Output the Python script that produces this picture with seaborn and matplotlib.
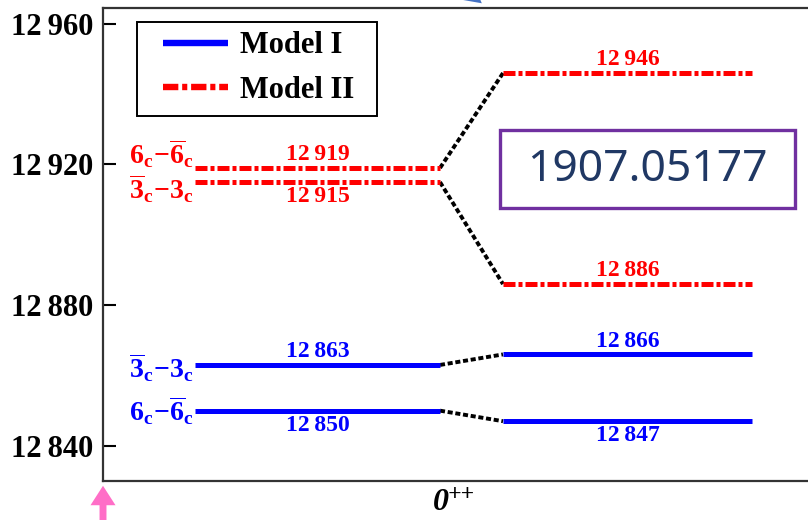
import matplotlib
matplotlib.use("Agg")
import numpy as np
import pandas as pd
import matplotlib.pyplot as plt
import seaborn as sns
from matplotlib.lines import Line2D
from matplotlib.patches import Rectangle

# ---- 0++ fully-charmed tetraquark levels (MeV) ----
model_names = ["Model I", "Model II"]
model_i_left = [12863, 12850]     # 3bar-3, 6-6bar
model_i_right = [12866, 12847]
model_ii_left = [12919, 12915]    # 6-6bar, 3bar-3
model_ii_right = [12946, 12886]
configs_i = [r"$\overline{3}_{\mathrm{c}}\!-\!3_{\mathrm{c}}$",
             r"$6_{\mathrm{c}}\!-\!\overline{6}_{\mathrm{c}}$"]
configs_ii = [r"$6_{\mathrm{c}}\!-\!\overline{6}_{\mathrm{c}}$",
              r"$\overline{3}_{\mathrm{c}}\!-\!3_{\mathrm{c}}$"]
y_ticks = [12840, 12880, 12920, 12960]
state_label = "0"
state_sup = "++"
paper_id = "1907.05177"

BLUE = "#0000FF"
RED = "#FF0000"
LEFT = (0.92, 3.37)
RIGHT = (4.00, 6.49)


def thin(v):
    return f"{v // 1000}\u2009{v % 1000:03d}"


sns.set_theme(style="white")
plt.rcParams["font.family"] = ["Liberation Serif", "DejaVu Serif"]
plt.rcParams["font.weight"] = "bold"
plt.rcParams["text.color"] = "black"
plt.rcParams["mathtext.fontset"] = "custom"
plt.rcParams["mathtext.rm"] = "Liberation Serif:bold"
plt.rcParams["mathtext.it"] = "Liberation Serif:bold:italic"
plt.rcParams["mathtext.bf"] = "Liberation Serif:bold"

fig = plt.figure(figsize=(8.08, 5.2), dpi=100)
ax = fig.add_axes([103 / 808, 39 / 520, 730 / 808, 473 / 520])

# level segments and the dashed connectors between the two columns
rows, links = [], []
model_data = {
    "Model I": (model_i_left, model_i_right),
    "Model II": (model_ii_left, model_ii_right),
}
for m in model_names:
    lv, rv = model_data[m]
    for k in range(len(lv)):
        for side, span, val in (("L", LEFT, lv[k]), ("R", RIGHT, rv[k])):
            for x in span:
                rows.append(dict(model=m, unit=f"{m}-{side}{k}", x=x, E=val))
        links.append(dict(unit=f"{m}-{k}", x=LEFT[1], E=lv[k]))
        links.append(dict(unit=f"{m}-{k}", x=RIGHT[0], E=rv[k]))
levels = pd.DataFrame(rows)
conn = pd.DataFrame(links)

sns.lineplot(data=conn, x="x", y="E", units="unit", estimator=None, sort=False,
             color="black", linewidth=2.8, dashes=False, ax=ax, legend=False)
for line in ax.get_lines():
    line.set_dashes((1.3, 0.7))
    line.set_dash_capstyle("butt")

sns.lineplot(data=levels, x="x", y="E", units="unit", estimator=None, sort=False,
             hue="model", style="model",
             palette={"Model I": BLUE, "Model II": RED},
             dashes={"Model I": "", "Model II": (2.4, 0.6, 0.8, 0.6)},
             linewidth=3.6, ax=ax, legend=False)
for line in ax.get_lines():
    line.set_solid_capstyle("butt")
    line.set_dash_capstyle("butt")

# value labels
placement = {
    "Model I": (["above", "below"], ["above", "below"]),
    "Model II": (["above", "below"], ["above", "above"]),
}
colors = {"Model I": BLUE, "Model II": RED}
for m in model_names:
    lv, rv = model_data[m]
    for vals, span, where in ((lv, LEFT, placement[m][0]), (rv, RIGHT, placement[m][1])):
        mid = 0.5 * (span[0] + span[1])
        for v, w in zip(vals, where):
            up = w == "above"
            ax.annotate(thin(v), xy=(mid, v), xytext=(0, 2 if up else -3),
                        textcoords="offset points", ha="center",
                        va="bottom" if up else "top", fontsize=17,
                        fontweight="bold", color=colors[m])

# configuration labels at the left of each level
cfg_offsets = {"Model I": [-2, 0], "Model II": [10, -5]}
for m, cfgs in (("Model I", configs_i), ("Model II", configs_ii)):
    lv = model_data[m][0]
    for c, v, dy in zip(cfgs, lv, cfg_offsets[m]):
        ax.annotate(c, xy=(LEFT[0], v), xytext=(-1, dy), textcoords="offset points",
                    ha="right", va="center", fontsize=20, color=colors[m])

ax.set_xlim(0, 7.3)
ax.set_ylim(12830, 12964.5)
ax.set_xticks([])
ax.set_yticks(y_ticks)
ax.set_yticklabels([thin(t) for t in y_ticks])
ax.tick_params(axis="y", direction="in", length=9, width=1.5, pad=7,
               labelsize=22, colors="black", left=True)
for lab in ax.get_yticklabels():
    lab.set_fontweight("bold")
ax.set_xlabel("")
ax.set_ylabel("")
for s in ("left", "bottom", "top"):
    ax.spines[s].set_visible(True)
    ax.spines[s].set_color("#333333")
    ax.spines[s].set_linewidth(1.6)
ax.spines["right"].set_visible(False)

# state label under the axis
ax.annotate(state_label, xy=(3.38, 0), xycoords=("data", "axes fraction"),
            xytext=(0, -5), textcoords="offset points", ha="center", va="top",
            fontsize=23, fontweight="bold", fontstyle="italic", color="black")
ax.annotate(state_sup, xy=(3.38, 0), xycoords=("data", "axes fraction"),
            xytext=(5, -2), textcoords="offset points", ha="left", va="top",
            fontsize=17, fontweight="bold", fontstyle="italic", color="black")

# legend: entries placed freely, frame drawn as its own box
handles = [
    Line2D([], [], color=BLUE, lw=4.6, solid_capstyle="butt"),
    Line2D([], [], color=RED, lw=4.6, dashes=(2.4, 0.6, 0.8, 0.6), dash_capstyle="butt"),
]
leg = ax.legend(handles, model_names, loc="center left",
                bbox_to_anchor=(163 / 808, 1 - 68 / 520), bbox_transform=fig.transFigure,
                frameon=False,
                prop={"family": "Liberation Serif", "weight": "bold", "size": 22},
                handlelength=2.12, handletextpad=0.4, borderpad=0,
                labelspacing=0.5, borderaxespad=0)
for t in leg.get_texts():
    t.set_color("black")
fig.add_artist(Rectangle((137 / 808, 1 - 116 / 520), 240 / 808, 94 / 520,
                         transform=fig.transFigure, facecolor="none",
                         edgecolor="black", linewidth=1.4, zorder=5))

# arXiv identifier box
fig.add_artist(Rectangle((500 / 808, 312 / 520), 295 / 808, 78 / 520,
                         transform=fig.transFigure, facecolor="white",
                         edgecolor="#7030A0", linewidth=2.4))
fig.text(647 / 808, 350 / 520, paper_id, ha="center", va="center",
         fontsize=32, family="Noto Sans", fontweight="light", color="#203864")

# pointers
ax.annotate("", xy=(103, 37), xytext=(103, -10), xycoords="figure pixels",
            textcoords="figure pixels",
            arrowprops=dict(arrowstyle="simple,head_width=1.8,head_length=1.4,tail_width=0.5",
                            color="#FF6EC7", lw=0, mutation_scale=10))
ax.annotate("", xy=(484, 515), xytext=(446, 545), xycoords="figure pixels",
            textcoords="figure pixels",
            arrowprops=dict(arrowstyle="simple,head_width=1.4,head_length=1.3,tail_width=0.4",
                            color="#4472C4", lw=0, mutation_scale=10))

fig.savefig("out.png", dpi=100)
